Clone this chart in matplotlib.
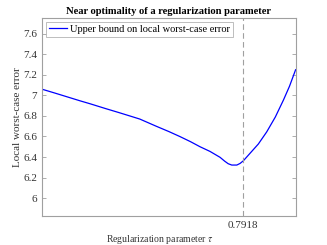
import matplotlib
matplotlib.use("Agg")
import matplotlib.pyplot as plt

# readings
tau = [0.0, 0.05, 0.10, 0.15, 0.19, 0.25, 0.30, 0.346, 0.385, 0.45, 0.50,
       0.543, 0.585, 0.623, 0.662, 0.702, 0.720, 0.734, 0.748, 0.768,
       0.781, 0.794, 0.820, 0.853, 0.886, 0.920, 0.952, 0.976, 1.0]
err = [7.06, 7.023, 6.985, 6.947, 6.918, 6.872, 6.835, 6.80, 6.77, 6.70,
       6.648, 6.60, 6.55, 6.50, 6.455, 6.397, 6.36, 6.335, 6.322, 6.322,
       6.338, 6.364, 6.436, 6.527, 6.645, 6.79, 6.955, 7.09, 7.25]
tau_opt = 0.7918
yticks = [6.0, 6.2, 6.4, 6.6, 6.8, 7.0, 7.2, 7.4, 7.6]
ytick_labels = ["6", "6.2", "6.4", "6.6", "6.8", "7", "7.2", "7.4", "7.6"]

plt.rcParams["font.family"] = "Liberation Serif"
plt.rcParams["mathtext.fontset"] = "stix"

fig = plt.figure(figsize=(3.27, 2.45), dpi=100)
ax = fig.add_axes([0.129, 0.118, 0.775, 0.809])

ax.plot(tau, err, color="#0000ff", lw=0.9,
        label="Upper bound on local worst-case error")
ax.axvline(tau_opt, color="#a0a0a0", lw=0.8, ls=(0, (5, 3)))

ax.set_xlim(0, 1)
ax.set_ylim(5.825, 7.755)
ax.set_xticks([tau_opt])
ax.set_xticklabels(["0.7918"])
ax.set_yticks(yticks)
ax.set_yticklabels(ytick_labels)

for s in ax.spines.values():
    s.set_color("#a0a0a0")
    s.set_linewidth(0.8)
ax.tick_params(direction="in", length=3, width=0.6, color="#a0a0a0",
               labelsize=8, labelcolor="#333333", top=False, right=True)

ax.set_title("Near optimality of a regularization parameter",
             fontsize=7.6, fontweight="bold", pad=3)
ax.set_xlabel(r"Regularization parameter $\tau$", fontsize=7, color="#333333")
ax.xaxis.set_label_coords(0.464, -0.118)
ax.xaxis.label.set_va("center")
ax.set_ylabel("Local worst-case error", fontsize=8, color="#333333", labelpad=1)

leg = ax.legend(loc="upper left", fontsize=7.5, frameon=True, fancybox=False,
                handlelength=1.7, handletextpad=0.3, borderpad=0.3,
                borderaxespad=0.35)
leg.get_frame().set_edgecolor("#a0a0a0")
leg.get_frame().set_linewidth(0.6)

fig.savefig("out.png", dpi=100)
